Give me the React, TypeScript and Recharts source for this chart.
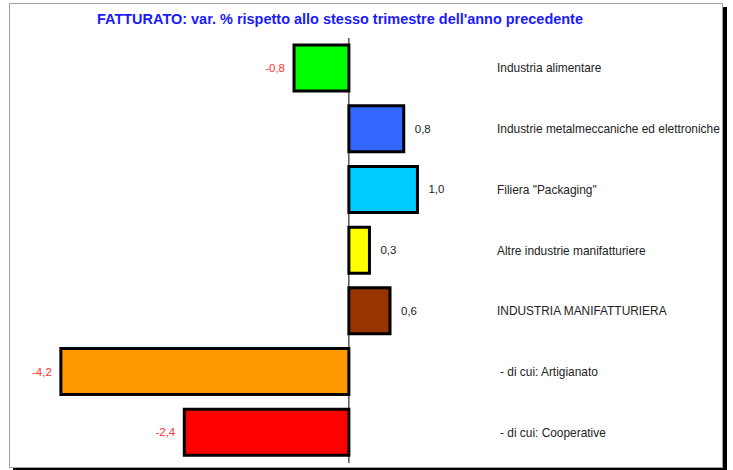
import React from 'react';
import {
  BarChart,
  Bar,
  XAxis,
  YAxis,
  Cell,
  LabelList,
  ReferenceLine,
} from 'recharts';

const title = "FATTURATO: var. % rispetto allo stesso trimestre dell'anno precedente";

const categories = [
  'Industria alimentare',
  'Industrie metalmeccaniche ed elettroniche',
  'Filiera "Packaging"',
  'Altre industrie manifatturiere',
  'INDUSTRIA MANIFATTURIERA',
  ' - di cui: Artigianato',
  ' - di cui: Cooperative',
];

const values = [-0.8, 0.8, 1.0, 0.3, 0.6, -4.2, -2.4];

const colors = ['#00ff00', '#3366ff', '#00ccff', '#ffff00', '#993300', '#ff9900', '#ff0000'];

const data = categories.map((name, i) => ({ name, value: values[i] }));

const font = '"Liberation Sans", Arial, sans-serif';

const fmt = (v: number) => v.toFixed(1).replace('.', ',');

function ValueLabel(props: any) {
  const { x, y, width, height, value } = props;
  const left = Math.min(x, x + width);
  const right = Math.max(x, x + width);
  const cy = y + height / 2;
  const neg = value < 0;
  return (
    <text
      x={neg ? left - 9 : right + 11}
      y={cy}
      dy={4}
      textAnchor={neg ? 'end' : 'start'}
      fill={neg ? '#ff3333' : '#222'}
      fontSize={11.5}
      fontFamily={font}
    >
      {fmt(value)}
    </text>
  );
}

// category names sit to the right of the plot, no wrapping
function CategoryTick(props: any) {
  const { x, y, payload } = props;
  const label = String(payload.value);
  const indent = label.startsWith(' ') ? 3 : 0;
  return (
    <text
      x={x + indent}
      y={y}
      dy={4}
      textAnchor="start"
      fill="#222"
      fontSize={11.9}
      fontFamily={font}
    >
      {label.trim()}
    </text>
  );
}

export default function App() {
  return (
    <div style={{ position: 'relative', width: 733, height: 470, background: '#fff' }}>
      <style>{`body{margin:0}`}</style>
      <div
        style={{
          position: 'absolute',
          left: 9,
          top: 3,
          width: 712,
          height: 463,
          border: '1px solid #a0a0a0',
          boxShadow: '4px 4px 0 #000',
        }}
      />
      <svg width={733} height={40} style={{ position: 'absolute', left: 0, top: 0 }}>
        <text
          x={340}
          y={24}
          textAnchor="middle"
          fill="#1a1aff"
          fontSize={14}
          fontWeight="bold"
          fontFamily={font}
          textLength={486}
          lengthAdjust="spacingAndGlyphs"
        >
          {title}
        </text>
      </svg>
      <div style={{ position: 'absolute', left: 0, top: 0 }}>
        <BarChart
          width={733}
          height={470}
          data={data}
          layout="vertical"
          margin={{ top: 38, right: 0, left: 6, bottom: 7 }}
          barSize={46}
        >
          <XAxis type="number" domain={[-5, 2.16]} hide allowDataOverflow />
          <YAxis
            type="category"
            dataKey="name"
            orientation="right"
            width={236}
            axisLine={false}
            tickLine={false}
            tickSize={0}
            tickMargin={0}
            tick={<CategoryTick />}
            interval={0}
          />
          <ReferenceLine x={0} stroke="#000" strokeWidth={1} />
          <Bar dataKey="value" stroke="#000" strokeWidth={3} isAnimationActive={false}>
            {data.map((d, i) => (
              <Cell key={d.name} fill={colors[i]} />
            ))}
            <LabelList dataKey="value" content={<ValueLabel />} />
          </Bar>
        </BarChart>
      </div>
    </div>
  );
}
